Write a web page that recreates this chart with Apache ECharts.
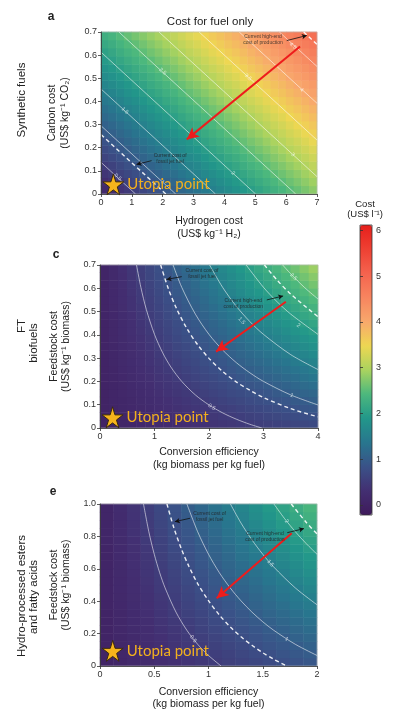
<!DOCTYPE html>
<html><head><meta charset="utf-8">
<script src="https://cdn.jsdelivr.net/npm/echarts@6/dist/echarts.min.js"></script>
<style>html,body{margin:0;padding:0;background:#fff}#c{width:400px;height:718px}</style>
</head><body><div id="c"></div>
<script>
// ---------- Panel a: synthetic fuels (cell centres + cost) ----------
const aHydrogen = [0.125,0.375,0.625,0.875,1.125,1.375,1.625,1.875,2.125,2.375,2.625,2.875,3.125,3.375,3.625,3.875,4.125,4.375,4.625,4.875,5.125,5.375,5.625,5.875,6.125,6.375,6.625,6.875];
const aCarbon = [0.0175,0.0525,0.0875,0.1225,0.1575,0.1925,0.2275,0.2625,0.2975,0.3325,0.3675,0.4025,0.4375,0.4725,0.5075,0.5425,0.5775,0.6125,0.6475,0.6825];
const aCost = [
 [0.18,0.27,0.37,0.47,0.56,0.66,0.76,0.85,0.95,1.04,1.14,1.24,1.33,1.43,1.53,1.62,1.72,1.81,1.91,2.01,2.10,2.20,2.30,2.39,2.49,2.58,2.68,2.78],
 [0.29,0.38,0.48,0.58,0.67,0.77,0.87,0.96,1.06,1.15,1.25,1.35,1.44,1.54,1.64,1.73,1.83,1.92,2.02,2.12,2.21,2.31,2.41,2.50,2.60,2.69,2.79,2.89],
 [0.40,0.49,0.59,0.69,0.78,0.88,0.98,1.07,1.17,1.26,1.36,1.46,1.55,1.65,1.75,1.84,1.94,2.03,2.13,2.23,2.32,2.42,2.52,2.61,2.71,2.80,2.90,3.00],
 [0.51,0.60,0.70,0.80,0.89,0.99,1.09,1.18,1.28,1.37,1.47,1.57,1.66,1.76,1.86,1.95,2.05,2.14,2.24,2.34,2.43,2.53,2.63,2.72,2.82,2.91,3.01,3.11],
 [0.62,0.71,0.81,0.91,1.00,1.10,1.20,1.29,1.39,1.48,1.58,1.68,1.77,1.87,1.97,2.06,2.16,2.25,2.35,2.45,2.54,2.64,2.74,2.83,2.93,3.02,3.12,3.22],
 [0.73,0.82,0.92,1.02,1.11,1.21,1.31,1.40,1.50,1.59,1.69,1.79,1.88,1.98,2.08,2.17,2.27,2.36,2.46,2.56,2.65,2.75,2.85,2.94,3.04,3.13,3.23,3.33],
 [0.84,0.93,1.03,1.13,1.22,1.32,1.42,1.51,1.61,1.70,1.80,1.90,1.99,2.09,2.19,2.28,2.38,2.47,2.57,2.67,2.76,2.86,2.96,3.05,3.15,3.24,3.34,3.44],
 [0.95,1.04,1.14,1.24,1.33,1.43,1.53,1.62,1.72,1.81,1.91,2.01,2.10,2.20,2.30,2.39,2.49,2.58,2.68,2.78,2.87,2.97,3.07,3.16,3.26,3.35,3.45,3.55],
 [1.06,1.15,1.25,1.35,1.44,1.54,1.64,1.73,1.83,1.92,2.02,2.12,2.21,2.31,2.41,2.50,2.60,2.69,2.79,2.89,2.98,3.08,3.18,3.27,3.37,3.46,3.56,3.66],
 [1.17,1.26,1.36,1.46,1.55,1.65,1.75,1.84,1.94,2.03,2.13,2.23,2.32,2.42,2.52,2.61,2.71,2.80,2.90,3.00,3.09,3.19,3.29,3.38,3.48,3.57,3.67,3.77],
 [1.28,1.37,1.47,1.57,1.66,1.76,1.86,1.95,2.05,2.14,2.24,2.34,2.43,2.53,2.63,2.72,2.82,2.91,3.01,3.11,3.20,3.30,3.40,3.49,3.59,3.68,3.78,3.88],
 [1.39,1.48,1.58,1.68,1.77,1.87,1.97,2.06,2.16,2.25,2.35,2.45,2.54,2.64,2.74,2.83,2.93,3.02,3.12,3.22,3.31,3.41,3.51,3.60,3.70,3.79,3.89,3.99],
 [1.50,1.59,1.69,1.79,1.88,1.98,2.08,2.17,2.27,2.36,2.46,2.56,2.65,2.75,2.85,2.94,3.04,3.13,3.23,3.33,3.42,3.52,3.62,3.71,3.81,3.90,4.00,4.10],
 [1.61,1.70,1.80,1.90,1.99,2.09,2.19,2.28,2.38,2.47,2.57,2.67,2.76,2.86,2.96,3.05,3.15,3.24,3.34,3.44,3.53,3.63,3.73,3.82,3.92,4.01,4.11,4.21],
 [1.72,1.81,1.91,2.01,2.10,2.20,2.30,2.39,2.49,2.58,2.68,2.78,2.87,2.97,3.07,3.16,3.26,3.35,3.45,3.55,3.64,3.74,3.84,3.93,4.03,4.12,4.22,4.32],
 [1.83,1.92,2.02,2.12,2.21,2.31,2.41,2.50,2.60,2.69,2.79,2.89,2.98,3.08,3.18,3.27,3.37,3.46,3.56,3.66,3.75,3.85,3.95,4.04,4.14,4.23,4.33,4.43],
 [1.94,2.03,2.13,2.23,2.32,2.42,2.52,2.61,2.71,2.80,2.90,3.00,3.09,3.19,3.29,3.38,3.48,3.57,3.67,3.77,3.86,3.96,4.06,4.15,4.25,4.34,4.44,4.54],
 [2.05,2.14,2.24,2.34,2.43,2.53,2.63,2.72,2.82,2.91,3.01,3.11,3.20,3.30,3.40,3.49,3.59,3.68,3.78,3.88,3.97,4.07,4.17,4.26,4.36,4.45,4.55,4.65],
 [2.16,2.25,2.35,2.45,2.54,2.64,2.74,2.83,2.93,3.02,3.12,3.22,3.31,3.41,3.51,3.60,3.70,3.79,3.89,3.99,4.08,4.18,4.28,4.37,4.47,4.56,4.66,4.76],
 [2.27,2.36,2.46,2.56,2.65,2.75,2.85,2.94,3.04,3.13,3.23,3.33,3.42,3.52,3.62,3.71,3.81,3.90,4.00,4.10,4.19,4.29,4.39,4.48,4.58,4.67,4.77,4.87]
];
const aContours = [
 {level:'0.5', ref:false, pts:[[0,0.137],[1.12,0]]},
 {level:'fossil', ref:true, pts:[[0,0.257],[2.10,0]]},
 {level:'1', ref:false, pts:[[0,0.295],[2.42,0]]},
 {level:'1.5', ref:false, pts:[[0,0.454],[3.71,0]]},
 {level:'2', ref:false, pts:[[0,0.613],[5.01,0]]},
 {level:'2.5', ref:false, pts:[[0.58,0.7],[6.31,0]]},
 {level:'3', ref:false, pts:[[1.88,0.7],[7,0.075]]},
 {level:'3.5', ref:false, pts:[[3.18,0.7],[7,0.233]]},
 {level:'4', ref:false, pts:[[4.48,0.7],[7,0.392]]},
 {level:'4.5', ref:false, pts:[[5.78,0.7],[7,0.551]]},
 {level:'high', ref:true, pts:[[6.57,0.7],[7,0.646]]}
];
const aLabels = [['0.5',0.55,0.073,-42],['1',2.0,0.051,-42],['1.5',0.78,0.36,-42],['2',4.28,0.09,-42],['2.5',2.0,0.53,-42],['3',6.22,0.17,-42],['3.5',4.77,0.505,-42],['4',6.5,0.45,-42],['4.5',6.22,0.64,-42]];
const aArrow = [[6.45,0.637],[2.78,0.236]];
const aNotes = [
 {text:'Current high-end\ncost of production', at:[5.25,0.666], from:[6.02,0.663], to:[6.67,0.685]},
 {text:'Current cost of\nfossil jet fuel', at:[2.24,0.151], from:[1.64,0.144], to:[1.15,0.128]}
];
const aUtopia = [0.40,0.042];

// ---------- Panel c: FT biofuels ----------
const cEfficiency = [0.0833,0.25,0.4167,0.5833,0.75,0.9167,1.0833,1.25,1.4167,1.5833,1.75,1.9167,2.0833,2.25,2.4167,2.5833,2.75,2.9167,3.0833,3.25,3.4167,3.5833,3.75,3.9167];
const cFeedstock = [0.0167,0.05,0.0833,0.1167,0.15,0.1833,0.2167,0.25,0.2833,0.3167,0.35,0.3833,0.4167,0.45,0.4833,0.5167,0.55,0.5833,0.6167,0.65,0.6833];
const cCost = [
 [0.02,0.05,0.08,0.11,0.14,0.17,0.20,0.23,0.26,0.29,0.32,0.35,0.38,0.41,0.44,0.47,0.50,0.53,0.56,0.59,0.62,0.65,0.68,0.71],
 [0.02,0.05,0.09,0.12,0.16,0.19,0.23,0.26,0.30,0.33,0.37,0.40,0.44,0.47,0.51,0.54,0.58,0.61,0.65,0.68,0.72,0.75,0.79,0.82],
 [0.02,0.06,0.10,0.14,0.18,0.22,0.26,0.30,0.34,0.38,0.42,0.45,0.49,0.53,0.57,0.61,0.65,0.69,0.73,0.77,0.81,0.85,0.89,0.93],
 [0.02,0.07,0.11,0.15,0.20,0.24,0.29,0.33,0.37,0.42,0.46,0.51,0.55,0.60,0.64,0.68,0.73,0.77,0.82,0.86,0.90,0.95,0.99,1.04],
 [0.02,0.07,0.12,0.17,0.22,0.27,0.32,0.37,0.41,0.46,0.51,0.56,0.61,0.66,0.71,0.75,0.80,0.85,0.90,0.95,1.00,1.05,1.10,1.14],
 [0.03,0.08,0.13,0.19,0.24,0.29,0.35,0.40,0.45,0.51,0.56,0.61,0.67,0.72,0.77,0.83,0.88,0.93,0.99,1.04,1.09,1.15,1.20,1.25],
 [0.03,0.09,0.14,0.20,0.26,0.32,0.38,0.43,0.49,0.55,0.61,0.67,0.72,0.78,0.84,0.90,0.95,1.01,1.07,1.13,1.19,1.24,1.30,1.36],
 [0.03,0.09,0.16,0.22,0.28,0.34,0.41,0.47,0.53,0.59,0.66,0.72,0.78,0.84,0.91,0.97,1.03,1.09,1.16,1.22,1.28,1.34,1.40,1.47],
 [0.03,0.10,0.17,0.23,0.30,0.37,0.44,0.50,0.57,0.64,0.70,0.77,0.84,0.90,0.97,1.04,1.11,1.17,1.24,1.31,1.37,1.44,1.51,1.58],
 [0.04,0.11,0.18,0.25,0.32,0.39,0.47,0.54,0.61,0.68,0.75,0.82,0.90,0.97,1.04,1.11,1.18,1.25,1.32,1.40,1.47,1.54,1.61,1.68],
 [0.04,0.11,0.19,0.27,0.34,0.42,0.50,0.57,0.65,0.72,0.80,0.88,0.95,1.03,1.10,1.18,1.26,1.33,1.41,1.49,1.56,1.64,1.71,1.79],
 [0.04,0.12,0.20,0.28,0.36,0.44,0.52,0.61,0.69,0.77,0.85,0.93,1.01,1.09,1.17,1.25,1.33,1.41,1.49,1.57,1.66,1.74,1.82,1.90],
 [0.04,0.13,0.21,0.30,0.38,0.47,0.55,0.64,0.73,0.81,0.90,0.98,1.07,1.15,1.24,1.32,1.41,1.49,1.58,1.66,1.75,1.84,1.92,2.01],
 [0.04,0.13,0.22,0.31,0.40,0.49,0.58,0.67,0.76,0.85,0.94,1.03,1.12,1.21,1.30,1.39,1.48,1.57,1.66,1.75,1.84,1.93,2.02,2.11],
 [0.05,0.14,0.24,0.33,0.43,0.52,0.61,0.71,0.80,0.90,0.99,1.09,1.18,1.28,1.37,1.47,1.56,1.65,1.75,1.84,1.94,2.03,2.13,2.22],
 [0.05,0.15,0.25,0.35,0.45,0.55,0.64,0.74,0.84,0.94,1.04,1.14,1.24,1.34,1.44,1.54,1.64,1.73,1.83,1.93,2.03,2.13,2.23,2.33],
 [0.05,0.16,0.26,0.36,0.47,0.57,0.67,0.78,0.88,0.98,1.09,1.19,1.30,1.40,1.50,1.61,1.71,1.81,1.92,2.02,2.13,2.23,2.33,2.44],
 [0.05,0.16,0.27,0.38,0.49,0.60,0.70,0.81,0.92,1.03,1.14,1.25,1.35,1.46,1.57,1.68,1.79,1.89,2.00,2.11,2.22,2.33,2.44,2.54],
 [0.06,0.17,0.28,0.40,0.51,0.62,0.73,0.85,0.96,1.07,1.19,1.30,1.41,1.52,1.64,1.75,1.86,1.98,2.09,2.20,2.31,2.43,2.54,2.65],
 [0.06,0.18,0.29,0.41,0.53,0.65,0.76,0.88,1.00,1.12,1.23,1.35,1.47,1.59,1.70,1.82,1.94,2.06,2.17,2.29,2.41,2.53,2.64,2.76],
 [0.06,0.18,0.31,0.43,0.55,0.67,0.79,0.92,1.04,1.16,1.28,1.40,1.53,1.65,1.77,1.89,2.01,2.14,2.26,2.38,2.50,2.62,2.75,2.87]
];
const cContours = [
 {level:'0.5', ref:false, pts:[[0.67,0.7],[0.75,0.604],[0.85,0.509],[1.0,0.402],[1.15,0.323],[1.3,0.262],[1.5,0.2],[1.75,0.142],[2,0.099],[2.25,0.065],[2.5,0.038],[2.75,0.016],[2.97,0]]},
 {level:'fossil', ref:true, pts:[[1.113,0.7],[1.25,0.601],[1.4,0.515],[1.6,0.425],[1.8,0.355],[2,0.299],[2.25,0.243],[2.5,0.198],[2.75,0.162],[3,0.131],[3.5,0.083],[4,0.048]]},
 {level:'1', ref:false, pts:[[1.341,0.7],[1.5,0.604],[1.75,0.489],[2,0.402],[2.25,0.335],[2.5,0.281],[2.75,0.237],[3,0.2],[3.5,0.142],[4,0.099]]},
 {level:'1.5', ref:false, pts:[[2.011,0.7],[2.25,0.604],[2.5,0.523],[2.75,0.457],[3,0.402],[3.5,0.315],[4,0.251]]},
 {level:'2', ref:false, pts:[[2.682,0.7],[3,0.604],[3.25,0.542],[3.5,0.489],[4,0.402]]},
 {level:'high', ref:true, pts:[[3.017,0.7],[3.25,0.635],[3.5,0.575],[4,0.478]]},
 {level:'2.5', ref:false, pts:[[3.352,0.7],[3.5,0.662],[3.75,0.604],[4,0.554]]}
];
const cLabels = [['0.5',2.05,0.09,-31],['1',3.52,0.14,-23],['1.5',2.6,0.46,-47],['2',3.64,0.44,-37],['2.5',3.55,0.65,-46]];
const cArrow = [[3.41,0.542],[2.13,0.328]];
const cNotes = [
 {text:'Current cost of\nfossil jet fuel', at:[1.87,0.661], from:[1.50,0.65], to:[1.22,0.638]},
 {text:'Current high-end\ncost of production', at:[2.63,0.536], from:[3.06,0.55], to:[3.36,0.567]}
];
const cUtopia = [0.23,0.046];

// ---------- Panel e: HEFA ----------
const eEfficiency = [0.0625,0.1875,0.3125,0.4375,0.5625,0.6875,0.8125,0.9375,1.0625,1.1875,1.3125,1.4375,1.5625,1.6875,1.8125,1.9375];
const eFeedstock = [0.025,0.075,0.125,0.175,0.225,0.275,0.325,0.375,0.425,0.475,0.525,0.575,0.625,0.675,0.725,0.775,0.825,0.875,0.925,0.975];
const eCost = [
 [0.03,0.09,0.15,0.20,0.26,0.32,0.38,0.44,0.50,0.56,0.61,0.67,0.73,0.79,0.85,0.91],
 [0.03,0.10,0.16,0.22,0.29,0.35,0.41,0.48,0.54,0.60,0.67,0.73,0.79,0.86,0.92,0.98],
 [0.03,0.10,0.17,0.24,0.31,0.38,0.45,0.51,0.58,0.65,0.72,0.79,0.86,0.92,0.99,1.06],
 [0.04,0.11,0.18,0.26,0.33,0.40,0.48,0.55,0.62,0.70,0.77,0.85,0.92,0.99,1.07,1.14],
 [0.04,0.12,0.20,0.27,0.35,0.43,0.51,0.59,0.67,0.75,0.82,0.90,0.98,1.06,1.14,1.22],
 [0.04,0.13,0.21,0.29,0.38,0.46,0.54,0.63,0.71,0.79,0.88,0.96,1.04,1.13,1.21,1.29],
 [0.04,0.13,0.22,0.31,0.40,0.49,0.58,0.66,0.75,0.84,0.93,1.02,1.11,1.19,1.28,1.37],
 [0.05,0.14,0.23,0.33,0.42,0.51,0.61,0.70,0.79,0.89,0.98,1.08,1.17,1.26,1.36,1.45],
 [0.05,0.15,0.25,0.34,0.44,0.54,0.64,0.74,0.84,0.94,1.03,1.13,1.23,1.33,1.43,1.53],
 [0.05,0.16,0.26,0.36,0.47,0.57,0.67,0.78,0.88,0.98,1.09,1.19,1.29,1.40,1.50,1.60],
 [0.05,0.16,0.27,0.38,0.49,0.60,0.71,0.81,0.92,1.03,1.14,1.25,1.36,1.46,1.57,1.68],
 [0.06,0.17,0.28,0.40,0.51,0.62,0.74,0.85,0.96,1.08,1.19,1.31,1.42,1.53,1.65,1.76],
 [0.06,0.18,0.30,0.41,0.53,0.65,0.77,0.89,1.01,1.13,1.24,1.36,1.48,1.60,1.72,1.84],
 [0.06,0.19,0.31,0.43,0.56,0.68,0.80,0.93,1.05,1.17,1.30,1.42,1.54,1.67,1.79,1.91],
 [0.06,0.19,0.32,0.45,0.58,0.71,0.84,0.96,1.09,1.22,1.35,1.48,1.61,1.73,1.86,1.99],
 [0.07,0.20,0.33,0.47,0.60,0.73,0.87,1.00,1.13,1.27,1.40,1.54,1.67,1.80,1.94,2.07],
 [0.07,0.21,0.35,0.48,0.62,0.76,0.90,1.04,1.18,1.32,1.45,1.59,1.73,1.87,2.01,2.15],
 [0.07,0.22,0.36,0.50,0.65,0.79,0.93,1.08,1.22,1.36,1.51,1.65,1.79,1.94,2.08,2.22],
 [0.07,0.22,0.37,0.52,0.67,0.82,0.97,1.11,1.26,1.41,1.56,1.71,1.86,2.00,2.15,2.30],
 [0.08,0.23,0.38,0.54,0.69,0.84,1.00,1.15,1.30,1.46,1.61,1.77,1.92,2.07,2.23,2.38]
];
const eContours = [
 {level:'0.5', ref:false, pts:[[0.401,1],[0.45,0.829],[0.5,0.69],[0.55,0.576],[0.6,0.482],[0.7,0.333],[0.8,0.221],[0.9,0.134],[1.0,0.065],[1.116,0]]},
 {level:'fossil', ref:true, pts:[[0.617,1],[0.68,0.855],[0.75,0.723],[0.82,0.614],[0.9,0.509],[1.0,0.403],[1.1,0.315],[1.2,0.242],[1.3,0.180],[1.4,0.128],[1.5,0.082],[1.6,0.042],[1.719,0]]},
 {level:'1', ref:false, pts:[[0.801,1],[0.9,0.829],[1.0,0.69],[1.1,0.576],[1.2,0.482],[1.3,0.402],[1.4,0.333],[1.5,0.273],[1.6,0.221],[1.8,0.134],[2.0,0.065]]},
 {level:'1.5', ref:false, pts:[[1.202,1],[1.3,0.882],[1.4,0.779],[1.5,0.69],[1.6,0.612],[1.8,0.482],[2.0,0.378]]},
 {level:'2', ref:false, pts:[[1.603,1],[1.7,0.911],[1.8,0.829],[1.9,0.756],[2.0,0.69]]},
 {level:'high', ref:true, pts:[[1.763,1],[1.9,0.887],[2.0,0.815]]}
];
const eLabels = [['0.5',0.86,0.167,-52],['1',1.72,0.167,-32],['1.5',1.57,0.634,-49],['2',1.72,0.893,-52]];
const eArrow = [[1.767,0.819],[1.075,0.418]];
const eNotes = [
 {text:'Current cost of\nfossil jet fuel', at:[1.01,0.92], from:[0.83,0.912], to:[0.69,0.891]},
 {text:'Current high-end\ncost of production', at:[1.52,0.80], from:[1.726,0.823], to:[1.88,0.848]}
];
const eUtopia = [0.117,0.094];

// colour bar
const costMin = -0.22, costMax = 6.12;
const colorTicks = [0,1,2,3,4,5,6];

// ---------- rendering ----------
const FONT = '"Liberation Sans", Arial, sans-serif';
const STAR = 'path://M50,0 L61,35 L98,35 L68,57 L79,91 L50,70 L21,91 L32,57 L2,35 L39,35 Z';
const CB_COLORS = ['#3f1a5b','#432f72','#3a5288','#28768e','#22978a','#4cb87d','#aad35f','#eed752','#f8a86c','#f7855f','#f4634e','#ee4033','#e61f1b'];

const PANELS = [
 {grid:{left:101,top:32,width:216,height:162}, xMin:0,xMax:7,xInt:1,yMin:0,yMax:0.7,yInt:0.1,
  xName:'Hydrogen cost\n(US$ kg⁻¹ H₂)', yName:'Carbon cost\n(US$ kg⁻¹ CO₂)', xGap:21, yGap:30,
  xCats:aHydrogen, yCats:aCarbon, cost:aCost, contours:aContours, curved:false, labels:aLabels, arrow:aArrow, notes:aNotes, star:aUtopia},
 {grid:{left:100,top:265,width:218,height:163}, xMin:0,xMax:4,xInt:1,yMin:0,yMax:0.7,yInt:0.1,
  xName:'Conversion efficiency\n(kg biomass per kg fuel)', yName:'Feedstock cost\n(US$ kg⁻¹ biomass)', xGap:18, yGap:23,
  xCats:cEfficiency, yCats:cFeedstock, cost:cCost, contours:cContours, curved:true, labels:cLabels, arrow:cArrow, notes:cNotes, star:cUtopia},
 {grid:{left:100,top:504,width:217,height:162}, xMin:0,xMax:2,xInt:0.5,yMin:0,yMax:1,yInt:0.2,
  xName:'Conversion efficiency\n(kg biomass per kg fuel)', yName:'Feedstock cost\n(US$ kg⁻¹ biomass)', xGap:19.5, yGap:23,
  xCats:eEfficiency, yCats:eFeedstock, cost:eCost, contours:eContours, curved:true, labels:eLabels, arrow:eArrow, notes:eNotes, star:eUtopia}
];

const grids = [], xAxes = [], yAxes = [], series = [], heatIdx = [];
const axisCommon = {
  axisLine:{show:true, onZero:false, lineStyle:{color:'#333', width:0.8}},
  axisTick:{show:true, length:3, lineStyle:{color:'#333', width:0.8}},
  splitLine:{show:false}, z:5
};
PANELS.forEach((p, i) => {
  grids.push(Object.assign({show:true, borderColor:'#bbb', borderWidth:0.6, z:3}, p.grid));
  const xv = xAxes.length, yv = yAxes.length;
  xAxes.push(Object.assign({gridIndex:i, type:'value', min:p.xMin, max:p.xMax, interval:p.xInt,
    axisLabel:{fontSize:9, color:'#333', margin:4, fontFamily:FONT},
    name:p.xName, nameLocation:'middle', nameGap:p.xGap,
    nameTextStyle:{fontSize:10.5, lineHeight:12.5, color:'#222', fontFamily:FONT}}, axisCommon));
  xAxes.push({gridIndex:i, type:'category', data:p.xCats.map(String), show:false});
  yAxes.push(Object.assign({gridIndex:i, type:'value', min:p.yMin, max:p.yMax, interval:p.yInt,
    axisLabel:{fontSize:9, color:'#333', margin:4, fontFamily:FONT, formatter:v => v === 0 ? '0' : v.toFixed(1)},
    name:p.yName, nameLocation:'middle', nameGap:p.yGap,
    nameTextStyle:{fontSize:10.5, lineHeight:12.5, color:'#222', fontFamily:FONT}}, axisCommon));
  yAxes.push({gridIndex:i, type:'category', data:p.yCats.map(String), show:false});

  const hd = [];
  p.cost.forEach((row, yi) => row.forEach((v, xi) => hd.push([xi, yi, v])));
  heatIdx.push(series.length);
  series.push({type:'heatmap', xAxisIndex:xv+1, yAxisIndex:yv+1, data:hd, silent:true, z:1,
    itemStyle:{borderWidth:0}, emphasis:{disabled:true}});

  p.contours.forEach(c => {
    series.push({type:'line', xAxisIndex:xv, yAxisIndex:yv, data:c.pts, silent:true, z:4,
      showSymbol:false, symbol:'none', smooth:p.curved ? 0.3 : false,
      lineStyle:{color: c.ref ? 'rgba(255,255,255,0.9)' : 'rgba(255,255,255,0.7)', width: c.ref ? 1.4 : 0.8, type: c.ref ? [4,3] : 'solid'}});
  });

  series.push({type:'scatter', xAxisIndex:xv, yAxisIndex:yv, silent:true, z:5, symbolSize:0,
    data:p.labels.map(l => ({name:l[0], value:[l[1], l[2]], label:{rotate:l[3]}})),
    label:{show:true, position:'inside', formatter:'{b}', fontSize:5.5, color:'rgba(255,255,255,0.85)', fontFamily:FONT}});

  // red arrow
  series.push({type:'line', xAxisIndex:xv, yAxisIndex:yv, data:p.arrow, silent:true, z:6,
    showSymbol:false, symbol:'none', lineStyle:{width:0, opacity:0},
    markLine:{silent:true, symbol:['none','arrow'], symbolSize:[9,12], label:{show:false}, animation:false,
      lineStyle:{color:'#ee1c1c', width:2, type:'solid'},
      data:[[{coord:p.arrow[0]},{coord:p.arrow[1]}]]}});
  // annotation arrows and texts
  series.push({type:'line', xAxisIndex:xv, yAxisIndex:yv, data:[], silent:true, z:6,
    markLine:{silent:true, symbol:['none','arrow'], symbolSize:[4,5], label:{show:false}, animation:false,
      lineStyle:{color:'#111', width:0.8, type:'solid'},
      data:p.notes.map(n => [{coord:n.from},{coord:n.to}])}});
  series.push({type:'scatter', xAxisIndex:xv, yAxisIndex:yv, silent:true, z:6, symbolSize:0,
    data:p.notes.map(n => ({name:n.text, value:n.at})),
    label:{show:true, position:'inside', formatter:'{b}', fontSize:5, lineHeight:6, color:'#222', fontFamily:FONT}});

  series.push({type:'scatter', xAxisIndex:xv, yAxisIndex:yv, silent:true, z:7, symbol:STAR, symbolSize:21,
    data:[p.star], itemStyle:{color:'#f6b41c', borderColor:'#3a2a10', borderWidth:1, opacity:1},
    label:{show:true, position:'right', distance:3, formatter:'Utopia point', color:'#f2b01e', fontSize:15, fontFamily:'Lato, "Open Sans", sans-serif'}});
});

// colour bar axis
grids.push({left:360, top:225, width:12, height:290, show:true, borderColor:'#333', borderWidth:0.8, z:10});
xAxes.push({gridIndex:3, type:'value', min:0, max:1, show:false});
yAxes.push({gridIndex:3, type:'value', position:'right', min:costMin, max:costMax, z:10,
  axisLine:{show:false}, splitLine:{show:false},
  axisTick:{show:true, length:3, customValues:colorTicks, lineStyle:{color:'#333', width:0.8}},
  axisLabel:{show:true, customValues:colorTicks, fontSize:9, color:'#333', margin:4, fontFamily:FONT}});

const txt = (x, y, text, size, extra) => Object.assign({type:'text', x, y, silent:true,
  style:{text, fontSize:size, fontFamily:FONT, fill:'#222', align:'center', verticalAlign:'middle'}}, extra || {});
const rot = (x, y, text, size) => txt(x, y, text, size, {rotation:Math.PI/2});

const option = {
  animation:false,
  backgroundColor:'#fff',
  grid:grids, xAxis:xAxes, yAxis:yAxes, series,
  visualMap:{type:'continuous', min:costMin, max:costMax, seriesIndex:heatIdx, left:360, top:225,
    itemWidth:12, itemHeight:290, padding:0, calculable:false, hoverLink:false,
    inRange:{color:CB_COLORS}},
  graphic:[
    txt(210, 22, 'Cost for fuel only', 11.5),
    txt(51, 17, 'a', 12),
    txt(56, 255, 'c', 12),
    txt(53, 492, 'e', 12),
    rot(22, 100, 'Synthetic fuels', 11.5),
    rot(22, 326, 'FT', 11.5),
    rot(34, 343, 'biofuels', 11.5),
    rot(22, 596, 'Hydro-processed esters', 11.5),
    rot(34, 597, 'and fatty acids', 11.5),
    txt(365, 204, 'Cost', 9.5),
    txt(365, 214.5, '(US$ l⁻¹)', 9.5)
  ]
};
option.graphic[1].style.fontWeight = 'bold';
option.graphic[2].style.fontWeight = 'bold';
option.graphic[3].style.fontWeight = 'bold';

const chart = echarts.init(document.getElementById('c'));
chart.setOption(option);
</script>
</body></html>
